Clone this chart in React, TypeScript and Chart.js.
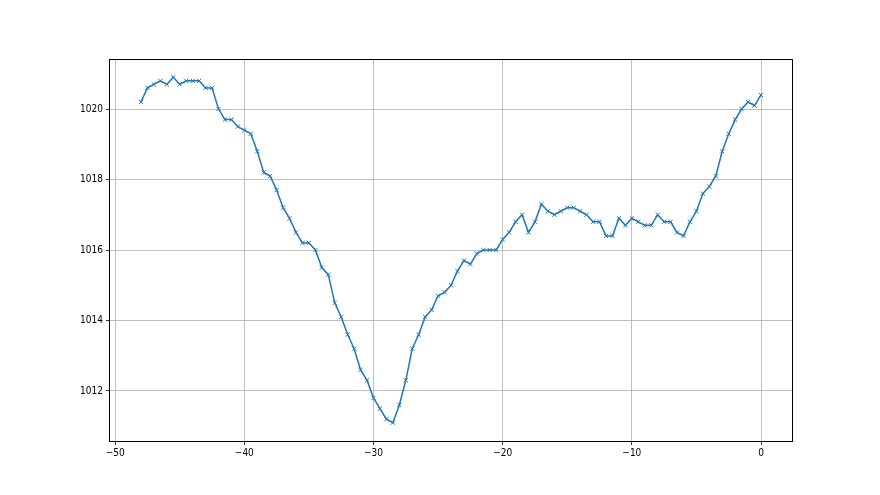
import React, { useEffect, useRef } from "react";
import { Chart, registerables } from "chart.js";

Chart.register(...registerables);

const xValues: number[] = [
  -48, -47.5, -47, -46.5, -46, -45.5, -45, -44.5, -44, -43.5, -43, -42.5,
  -42, -41.5, -41, -40.5, -40, -39.5, -39, -38.5, -38, -37.5, -37, -36.5,
  -36, -35.5, -35, -34.5, -34, -33.5, -33, -32.5, -32, -31.5, -31, -30.5,
  -30, -29.5, -29, -28.5, -28, -27.5, -27, -26.5, -26, -25.5, -25, -24.5,
  -24, -23.5, -23, -22.5, -22, -21.5, -21, -20.5, -20, -19.5, -19, -18.5,
  -18, -17.5, -17, -16.5, -16, -15.5, -15, -14.5, -14, -13.5, -13, -12.5,
  -12, -11.5, -11, -10.5, -10, -9.5, -9, -8.5, -8, -7.5, -7, -6.5,
  -6, -5.5, -5, -4.5, -4, -3.5, -3, -2.5, -2, -1.5, -1, -0.5, 0,
];

const pressure: number[] = [
  1020.2, 1020.6, 1020.7, 1020.8, 1020.7, 1020.9, 1020.7, 1020.8, 1020.8, 1020.8, 1020.6, 1020.6,
  1020.0, 1019.7, 1019.7, 1019.5, 1019.4, 1019.3, 1018.8, 1018.2, 1018.1, 1017.7, 1017.2, 1016.9,
  1016.5, 1016.2, 1016.2, 1016.0, 1015.5, 1015.3, 1014.5, 1014.1, 1013.6, 1013.2, 1012.6, 1012.3,
  1011.8, 1011.5, 1011.2, 1011.1, 1011.6, 1012.3, 1013.2, 1013.6, 1014.1, 1014.3, 1014.7, 1014.8,
  1015.0, 1015.4, 1015.7, 1015.6, 1015.9, 1016.0, 1016.0, 1016.0, 1016.3, 1016.5, 1016.8, 1017.0,
  1016.5, 1016.8, 1017.3, 1017.1, 1017.0, 1017.1, 1017.2, 1017.2, 1017.1, 1017.0, 1016.8, 1016.8,
  1016.4, 1016.4, 1016.9, 1016.7, 1016.9, 1016.8, 1016.7, 1016.7, 1017.0, 1016.8, 1016.8, 1016.5,
  1016.4, 1016.8, 1017.1, 1017.6, 1017.8, 1018.1, 1018.8, 1019.3, 1019.7, 1020.0, 1020.2, 1020.1, 1020.4,
];

const xTicks: number[] = [-50, -40, -30, -20, -10, 0];
const yTicks: number[] = [1012, 1014, 1016, 1018, 1020];

const FONT = "'DejaVu Sans Condensed', 'Liberation Sans Narrow', 'DejaVu Sans', sans-serif";

const framePlugin = {
  id: "frame",
  afterDraw(chart: any) {
    const { ctx, chartArea } = chart;
    ctx.save();
    ctx.strokeStyle = "#000";
    ctx.lineWidth = 1;
    ctx.strokeRect(
      Math.round(chartArea.left) - 0.5,
      Math.round(chartArea.top) + 0.5,
      Math.round(chartArea.right - chartArea.left) + 1,
      Math.round(chartArea.bottom - chartArea.top)
    );
    ctx.restore();
  },
};

export default function App() {
  const ref = useRef<HTMLCanvasElement | null>(null);

  useEffect(() => {
    if (!ref.current) return;
    const data = xValues.map((x, i) => ({ x, y: pressure[i] }));
    const chart = new Chart(ref.current, {
      type: "line",
      data: {
        datasets: [
          {
            data,
            borderColor: "#1f77b4",
            backgroundColor: "#1f77b4",
            borderWidth: 1.5,
            pointStyle: "crossRot",
            pointRadius: 3,
            pointBorderWidth: 1,
            pointBorderColor: "#1f77b4",
            pointHoverRadius: 3,
            tension: 0,
            fill: false,
          },
        ],
      },
      options: {
        animation: false,
        responsive: false,
        maintainAspectRatio: false,
        events: [],
        layout: { padding: { top: 59, right: 88, left: 0, bottom: 0 } },
        plugins: {
          legend: { display: false },
          tooltip: { enabled: false },
          title: { display: false },
        },
        scales: {
          x: {
            type: "linear",
            min: -50.4,
            max: 2.4,
            border: { display: false },
            grid: {
              color: "#b0b0b0",
              lineWidth: 0.8,
              tickColor: "#000",
              tickLength: 4,
              drawOnChartArea: true,
            },
            ticks: {
              color: "#000",
              font: { family: FONT, size: 10 },
              padding: 2,
              maxRotation: 0,
              callback: (v: any) => String(v).replace("-", "\u2212"),
            },
            afterBuildTicks: (scale: any) => {
              scale.ticks = xTicks.map((v) => ({ value: v }));
            },
            afterFit: (scale: any) => {
              scale.height = 54;
            },
          },
          y: {
            type: "linear",
            min: 1010.58,
            max: 1021.42,
            border: { display: false },
            grid: {
              color: "#b0b0b0",
              lineWidth: 0.8,
              tickColor: "#000",
              tickLength: 4,
            },
            ticks: {
              color: "#000",
              font: { family: FONT, size: 10 },
              padding: 3,
              callback: (v: any) => String(v),
            },
            afterBuildTicks: (scale: any) => {
              scale.ticks = yTicks.map((v) => ({ value: v }));
            },
            afterFit: (scale: any) => {
              scale.width = 110;
            },
          },
        },
      },
      plugins: [framePlugin],
    } as any);
    return () => chart.destroy();
  }, []);

  return (
    <div style={{ position: "fixed", left: 0, top: 0, width: 880, height: 495, background: "#fff" }}>
      <canvas ref={ref} width={880} height={495} style={{ width: 880, height: 495 }} />
    </div>
  );
}
